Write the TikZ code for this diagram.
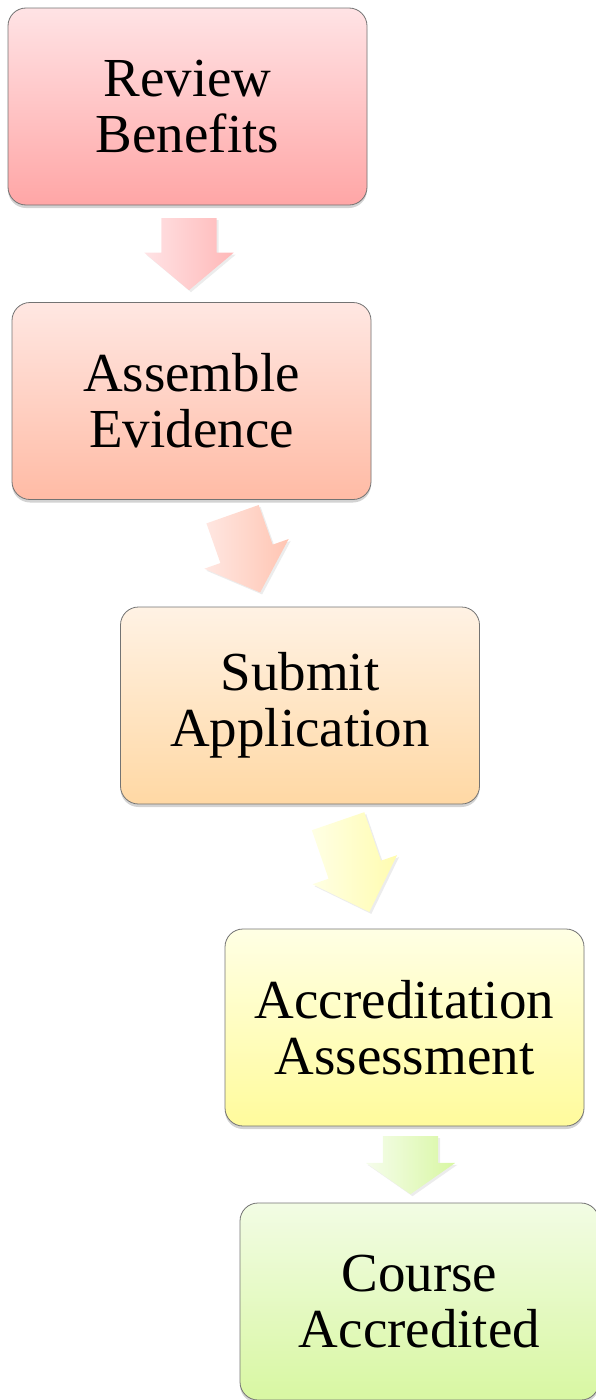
\documentclass[tikz,border=0pt]{standalone}
\usepackage{fontspec}
\setmainfont{Liberation Serif}
\usetikzlibrary{shapes.arrows,shadows}

\definecolor{redtop}{HTML}{FFE3E5}
\definecolor{redbot}{HTML}{FFA6A6}
\definecolor{salmontop}{HTML}{FFE7E2}
\definecolor{salmonbot}{HTML}{FFBBA5}
\definecolor{peachtop}{HTML}{FFF2E4}
\definecolor{peachbot}{HTML}{FFD8A4}
\definecolor{yellowtop}{HTML}{FFFFE4}
\definecolor{yellowbot}{HTML}{FFFB9C}
\definecolor{greentop}{HTML}{F2FCE4}
\definecolor{greenbot}{HTML}{D8F7A2}

\tikzset{
  stepbox/.style 2 args={rectangle, rounded corners=18pt, draw=black!55,
    line width=0.8pt, minimum width=359pt, minimum height=197pt,
    align=center, font=\fontsize{55}{56}\selectfont,
    top color=#1, bottom color=#2,
    drop shadow={shadow xshift=0pt, shadow yshift=-3pt, opacity=0.35}},
  flowarrow/.style={single arrow, minimum height=#1, inner xsep=0pt,
    inner ysep=27.5pt, single arrow head extend=17pt, anchor=tail,
    drop shadow={shadow xshift=2pt, shadow yshift=-2pt, opacity=0.15}},
}

\begin{document}
\begin{tikzpicture}[x=1pt,y=-1pt]
  \useasboundingbox (0,0) rectangle (595,1400);

  % steps
  \node[stepbox={redtop}{redbot}]       (review)   at (187.5,106.5) {Review\\Benefits};
  \node[stepbox={salmontop}{salmonbot}] (assemble) at (191.5,401)   {Assemble\\Evidence};
  \node[stepbox={peachtop}{peachbot}]   (submit)   at (300,705.5)   {Submit\\Application};
  \node[stepbox={yellowtop}{yellowbot}] (assess)   at (404.5,1027.5){Accreditation\\Assessment};
  \node[stepbox={greentop}{greenbot}]   (done)     at (419.5,1301.5){Course\\Accredited};

  % block arrows between steps
  \foreach \n/\x/\y/\r/\len/\tip/\ca/\cb in {
      ar1/189/218/-90/72/100/redtop/redbot!80,
      ar2/232.5/514/-70.6/83/95/salmontop/salmonbot!85,
      ar3/338/821/-71/96/90/yellowtop/yellowbot!80,
      ar4/410.5/1136/-90/58/110/greentop!70/greenbot}{
    \node[flowarrow=\len pt, rotate=\r, single arrow tip angle=\tip,
      left color=\ca, right color=\cb] (\n) at (\x,\y) {};
  }
\end{tikzpicture}
\end{document}
